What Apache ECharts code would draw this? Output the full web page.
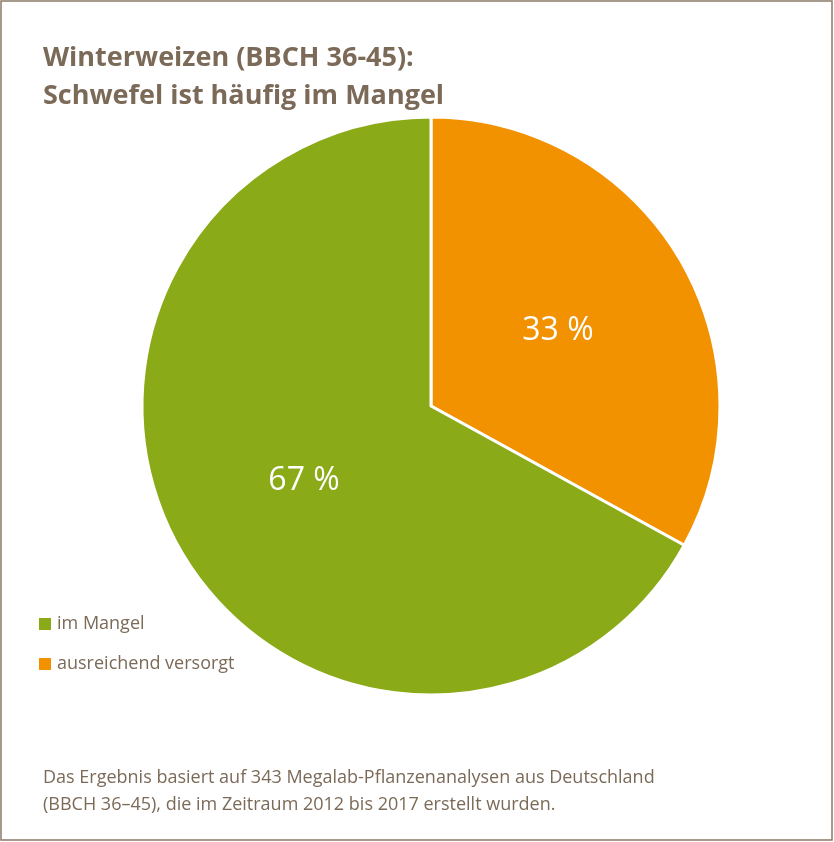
<!DOCTYPE html>
<html>
<head>
<meta charset="utf-8">
<script src="https://cdn.jsdelivr.net/npm/echarts@6/dist/echarts.min.js"></script>
<style>
  html,body{margin:0;padding:0;background:#fff;}
  #chart{width:834px;height:842px;}
</style>
</head>
<body>
<div id="chart"></div>
<script>
// 数据
const categories = ['ausreichend versorgt', 'im Mangel']
const values = [33, 67]
const colors = ['#f39200', '#8aaa17']

const myChart = echarts.init(document.getElementById('chart'))
const brown = '#7b6a58'

const option = {
  title: [{
    text: 'Winterweizen (BBCH 36-45):\nSchwefel ist häufig im Mangel',
    left: 38,
    top: 34,
    textStyle: { fontFamily: 'Open Sans', fontSize: 27, fontWeight: 'bold', color: brown, lineHeight: 38 }
  }, {
    text: 'Das Ergebnis basiert auf 343 Megalab-Pflanzenanalysen aus Deutschland\n(BBCH 36–45), die im Zeitraum 2012 bis 2017 erstellt wurden.',
    left: 38,
    top: 759,
    textStyle: { fontFamily: 'Open Sans', fontSize: 18, fontWeight: 'normal', color: brown, lineHeight: 27 }
  }],
  graphic: [{
    type: 'rect',
    shape: { x: 1, y: 1, width: 831, height: 839 },
    style: { fill: 'none', stroke: '#8a7a68', lineWidth: 1.5 }
  }],
  legend: {
    orient: 'vertical',
    left: 32,
    top: 610,
    itemGap: 22,
    itemWidth: 14,
    itemHeight: 14,
    icon: 'rect',
    data: ['im Mangel', 'ausreichend versorgt'],
    textStyle: { fontFamily: 'Open Sans', fontSize: 18, color: brown }
  },
  color: colors,
  series: [{
    type: 'pie',
    center: [431, 406],
    radius: [0, 289],
    startAngle: 90,
    clockwise: true,
    itemStyle: { borderColor: '#fff', borderWidth: 3 },
    label: {
      show: true,
      position: 'inside',
      formatter: '{c} %',
      color: '#fff',
      fontFamily: 'Open Sans',
      fontSize: 32
    },
    labelLine: { show: false },
    emphasis: { scale: false },
    data: categories.map((name, i) => ({ name: name, value: values[i] }))
  }]
}
myChart.setOption(option)
</script>
</body>
</html>
